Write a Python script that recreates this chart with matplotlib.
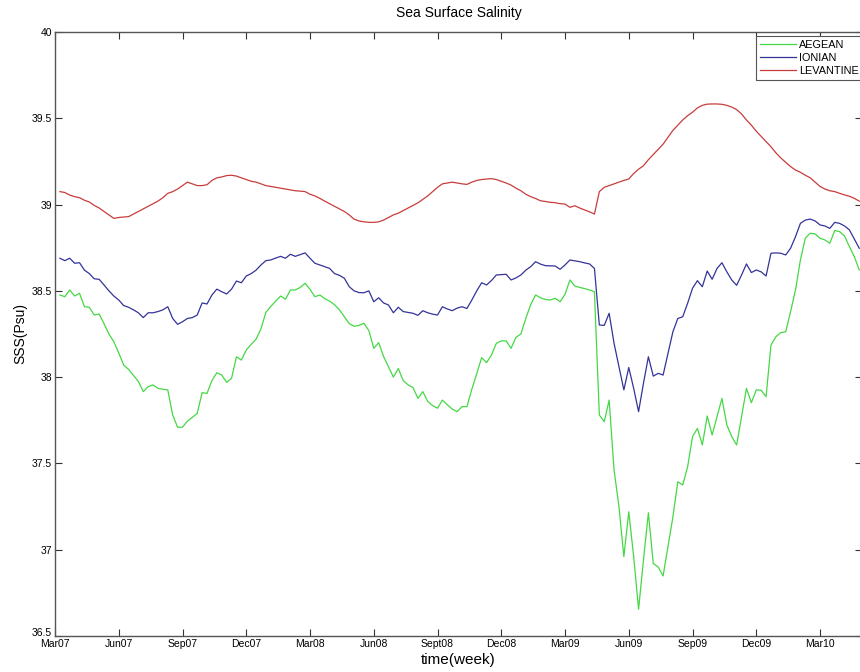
import numpy as np
import matplotlib
matplotlib.use("Agg")
import matplotlib.pyplot as plt
from matplotlib.transforms import ScaledTranslation

plt.rcParams['font.family'] = ['Liberation Sans', 'DejaVu Sans']

# semanas desde Mar07 (una muestra por semana)
semanas = np.arange(1, 165)

aegean = [
    38.476, 38.466, 38.505, 38.47, 38.486, 38.408, 38.405, 38.36, 38.366, 38.31,
    38.25, 38.205, 38.14, 38.07, 38.045, 38.01, 37.975, 37.916, 37.945, 37.955,
    37.935, 37.93, 37.926, 37.78, 37.71, 37.71, 37.745, 37.767, 37.79, 37.91,
    37.906, 37.98, 38.026, 38.012, 37.97, 37.993, 38.118, 38.099, 38.157, 38.19,
    38.22, 38.28, 38.375, 38.41, 38.44, 38.47, 38.451, 38.505, 38.505, 38.52,
    38.544, 38.509, 38.466, 38.476, 38.455, 38.44, 38.42, 38.39, 38.35, 38.31,
    38.295, 38.3, 38.312, 38.27, 38.167, 38.2, 38.12, 38.06, 38.0, 38.05,
    37.98, 37.955, 37.94, 37.877, 37.916, 37.86, 37.835, 37.82, 37.867, 37.84,
    37.815, 37.80, 37.829, 37.829, 37.93, 38.02, 38.113, 38.084, 38.128, 38.196,
    38.21, 38.21, 38.167, 38.231, 38.25, 38.34, 38.42, 38.476, 38.46, 38.45,
    38.447, 38.457, 38.437, 38.48, 38.563, 38.528, 38.52, 38.513, 38.505, 38.495,
    37.781, 37.742, 37.867, 37.462, 37.25, 36.96, 37.22, 36.96, 36.655, 36.94,
    37.214, 36.92, 36.90, 36.848, 37.018, 37.19, 37.394, 37.375, 37.48, 37.655,
    37.703, 37.607, 37.775, 37.665, 37.77, 37.877, 37.723, 37.655, 37.607, 37.77,
    37.935, 37.852, 37.926, 37.924, 37.887, 38.186, 38.234, 38.258, 38.263, 38.38,
    38.505, 38.679, 38.805, 38.834, 38.83, 38.805, 38.795, 38.776, 38.85, 38.843,
    38.818, 38.756, 38.698, 38.621,
]

ionian = [
    38.689, 38.675, 38.689, 38.66, 38.663, 38.62, 38.60, 38.57, 38.567, 38.534,
    38.50, 38.47, 38.447, 38.415, 38.405, 38.39, 38.373, 38.345, 38.373, 38.373,
    38.38, 38.39, 38.408, 38.34, 38.306, 38.321, 38.34, 38.345, 38.36, 38.43,
    38.424, 38.476, 38.51, 38.495, 38.482, 38.51, 38.557, 38.547, 38.586, 38.60,
    38.62, 38.65, 38.675, 38.679, 38.69, 38.70, 38.689, 38.712, 38.70, 38.71,
    38.72, 38.689, 38.66, 38.65, 38.64, 38.63, 38.60, 38.59, 38.573, 38.524,
    38.50, 38.49, 38.489, 38.50, 38.437, 38.46, 38.43, 38.418, 38.373, 38.405,
    38.38, 38.375, 38.37, 38.358, 38.385, 38.373, 38.365, 38.36, 38.408, 38.395,
    38.385, 38.40, 38.408, 38.398, 38.447, 38.50, 38.547, 38.534, 38.56, 38.592,
    38.594, 38.596, 38.563, 38.575, 38.592, 38.62, 38.64, 38.669, 38.655, 38.646,
    38.645, 38.644, 38.625, 38.65, 38.679, 38.674, 38.669, 38.662, 38.656, 38.63,
    38.302, 38.30, 38.37, 38.196, 38.06, 37.926, 38.056, 37.935, 37.80, 37.965,
    38.118, 38.006, 38.022, 38.012, 38.138, 38.263, 38.34, 38.35, 38.428, 38.515,
    38.559, 38.524, 38.615, 38.567, 38.63, 38.663, 38.61, 38.563, 38.532, 38.592,
    38.656, 38.606, 38.621, 38.61, 38.586, 38.718, 38.72, 38.718, 38.708, 38.747,
    38.814, 38.891, 38.91, 38.916, 38.905, 38.882, 38.876, 38.862, 38.897, 38.891,
    38.876, 38.853, 38.80, 38.747,
]

levantine = [
    39.075, 39.07, 39.055, 39.046, 39.04, 39.025, 39.015, 38.995, 38.98, 38.96,
    38.94, 38.92, 38.925, 38.928, 38.93, 38.945, 38.96, 38.975, 38.99, 39.005,
    39.02, 39.04, 39.065, 39.075, 39.09, 39.11, 39.13, 39.12, 39.11, 39.11,
    39.115, 39.14, 39.155, 39.16, 39.168, 39.17, 39.165, 39.155, 39.145, 39.135,
    39.13, 39.12, 39.11, 39.105, 39.10, 39.095, 39.09, 39.085, 39.08, 39.078,
    39.075, 39.06, 39.05, 39.036, 39.02, 39.005, 38.99, 38.975, 38.96, 38.94,
    38.915, 38.905, 38.9, 38.897, 38.897, 38.9, 38.91, 38.925, 38.94, 38.95,
    38.965, 38.98, 38.995, 39.01, 39.03, 39.05, 39.075, 39.1, 39.12, 39.125,
    39.13, 39.125, 39.12, 39.117, 39.13, 39.14, 39.145, 39.148, 39.15, 39.145,
    39.135, 39.125, 39.113, 39.095, 39.08, 39.06, 39.046, 39.035, 39.022, 39.018,
    39.013, 39.011, 39.005, 39.003, 38.984, 38.993, 38.98, 38.969, 38.958, 38.945,
    39.075, 39.1, 39.11, 39.12, 39.13, 39.14, 39.148, 39.18, 39.205, 39.225,
    39.26, 39.29, 39.32, 39.35, 39.39, 39.43, 39.46, 39.49, 39.515, 39.535,
    39.56, 39.575, 39.582, 39.583, 39.583, 39.581, 39.575, 39.565, 39.55, 39.525,
    39.49, 39.46, 39.425, 39.395, 39.365, 39.335, 39.3, 39.27, 39.245, 39.22,
    39.2, 39.187, 39.17, 39.155, 39.13, 39.105, 39.09, 39.08, 39.075, 39.065,
    39.056, 39.048, 39.036, 39.02,
]

etiquetas_x = ['Mar07', 'Jun07', 'Sep07', 'Dec07', 'Mar08', 'Jun08', 'Sept08',
               'Dec08', 'Mar09', 'Jun09', 'Sep09', 'Dec09', 'Mar10']
ticks_x = [13 * i for i in range(len(etiquetas_x))]
ticks_y = [36.5, 37, 37.5, 38, 38.5, 39, 39.5, 40]
etiquetas_y = ['36.5', '37', '37.5', '38', '38.5', '39', '39.5', '40']

fig = plt.figure(figsize=(8.6, 6.72), dpi=100)
# el eje derecho queda justo fuera de la imagen, como en el original
ax = fig.add_axes([55 / 860, 36 / 672, 807 / 860, 604 / 672])

ax.plot(semanas, aegean, color='#44d844', linewidth=0.9, label='AEGEAN')
ax.plot(semanas, ionian, color='#33339a', linewidth=0.9, label='IONIAN')
ax.plot(semanas, levantine, color='#c83c3c', linewidth=0.9, label='LEVANTINE')

ax.set_xlim(0, 164.56)
ax.set_ylim(36.5, 40)
ax.set_xticks(ticks_x)
ax.set_xticklabels(etiquetas_x)
ax.set_yticks(ticks_y)
ax.set_yticklabels(etiquetas_y)
ax.tick_params(direction='in', top=True, right=True, labelsize=7.5,
               length=5, width=0.8, color='#333333', pad=2)

# subir un poco la etiqueta 36.5 para que no pise Mar07
lab0 = ax.get_yticklabels()[0]
lab0.set_transform(lab0.get_transform() + ScaledTranslation(0, 4 / 100, fig.dpi_scale_trans))

for s in ax.spines.values():
    s.set_color('#555555')
    s.set_linewidth(1.0)

ax.set_title('Sea Surface Salinity', fontsize=10, pad=11)
ax.set_xlabel('time(week)', fontsize=11, labelpad=3)
ax.set_ylabel('SSS(Psu)', fontsize=10, labelpad=3)

# la leyenda también queda cortada por el borde derecho
leg = ax.legend(loc='upper right', bbox_to_anchor=(1.006, 1.0), fontsize=7.8,
                handlelength=3.3, handletextpad=0.3, labelspacing=0.25,
                borderaxespad=0.35, fancybox=False, framealpha=1,
                edgecolor='#555555')
leg.get_frame().set_linewidth(0.8)

fig.savefig('out.png', dpi=100)
